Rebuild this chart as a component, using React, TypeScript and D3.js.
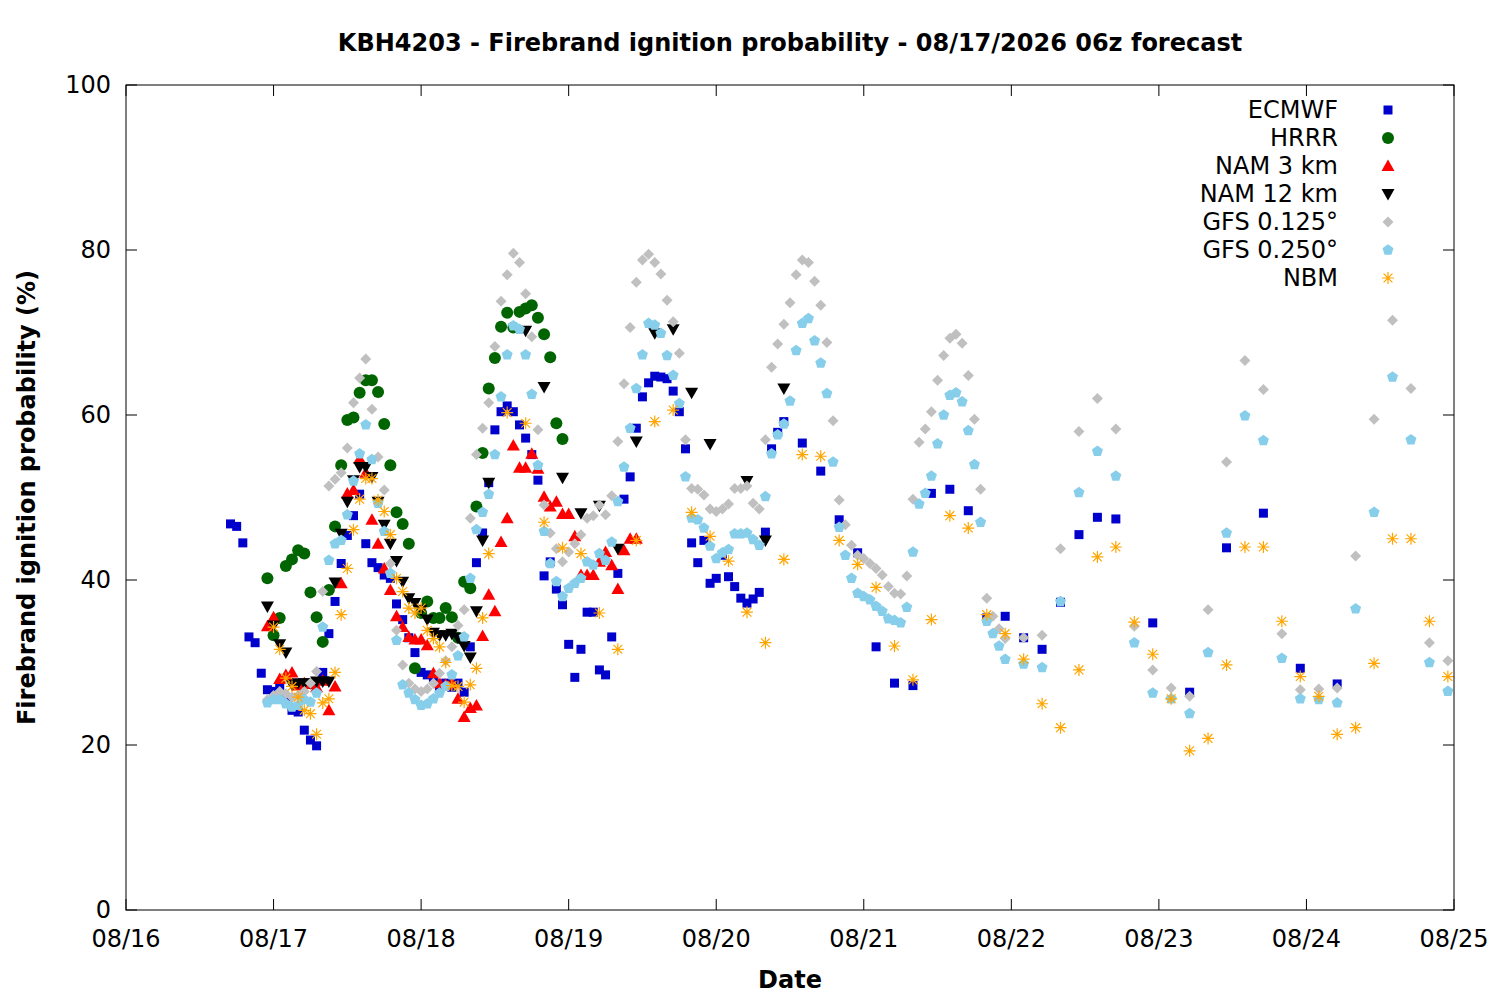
import React from 'react';
import * as d3 from 'd3';

// forecast hours since 08/16 00z paired with ignition probability (%)
const ECMWF: [number, number][] = [
  [17, 46.8], [18, 46.5], [19, 44.5], [20, 33.1], [21, 32.4], [22, 28.7], [23, 26.7], [24, 26.5], [25, 27.2], [26, 25.5],
  [27, 24.2], [28, 24.0], [29, 21.8], [30, 20.6], [31, 19.9], [32, 28.8], [33, 33.5], [34, 37.4], [35, 42.0], [36, 45.4],
  [37, 47.8], [38, 50.4], [39, 44.4], [40, 42.1], [41, 41.5], [42, 40.6], [43, 40.2], [44, 37.1], [45, 35.2], [46, 33.0],
  [47, 31.2], [48, 28.8], [49, 28.5], [50, 28.2], [51, 27.0], [52, 27.5], [53, 27.0], [54, 27.5], [55, 26.4], [56, 31.9],
  [57, 42.1], [58, 45.7], [59, 51.8], [60, 58.2], [61, 60.4], [62, 61.1], [63, 60.4], [64, 58.8], [65, 57.2], [66, 55.2],
  [67, 52.1], [68, 40.5], [69, 42.2], [70, 38.9], [71, 37.0], [72, 32.2], [73, 28.2], [74, 31.6], [75, 36.1], [76, 36.1],
  [77, 29.1], [78, 28.5], [79, 33.1], [80, 40.8], [81, 49.8], [82, 52.5], [83, 58.4], [84, 62.2], [85, 63.9], [86, 64.7],
  [87, 64.6], [88, 64.4], [89, 62.9], [90, 60.4], [91, 55.9], [92, 44.5], [93, 42.1], [94, 44.8], [95, 39.6], [96, 40.2],
  [97, 43.0], [98, 40.4], [99, 39.2], [100, 37.8], [101, 37.2], [102, 37.7], [103, 38.5], [104, 45.8], [105, 55.9], [106, 57.9],
  [107, 59.2], [110, 56.6], [113, 53.2], [116, 47.3], [119, 43.3], [122, 31.9], [125, 27.5], [128, 27.2], [131, 50.5], [134, 51.0],
  [137, 48.4], [140, 35.4], [143, 35.6], [146, 33.0], [149, 31.6], [152, 37.3], [155, 45.5], [158, 47.6], [161, 47.4], [167, 34.8],
  [173, 26.4], [179, 43.9], [185, 48.1], [191, 29.3], [197, 27.4],
];

const HRRR: [number, number][] = [
  [23, 40.2], [24, 33.3], [25, 35.4], [26, 41.7], [27, 42.5], [28, 43.6], [29, 43.2], [30, 38.5], [31, 35.5], [32, 32.5],
  [33, 38.8], [34, 46.5], [35, 53.9], [36, 59.4], [37, 59.7], [38, 62.7], [39, 64.2], [40, 64.2], [41, 62.8], [42, 58.9],
  [43, 53.9], [44, 48.2], [45, 46.8], [46, 44.4], [47, 29.3], [48, 36.0], [49, 37.4], [50, 35.4], [51, 35.4], [52, 36.6],
  [53, 35.5], [54, 33.0], [55, 39.8], [56, 39.0], [57, 48.9], [58, 55.4], [59, 63.2], [60, 66.9], [61, 70.7], [62, 72.4],
  [63, 70.6], [64, 72.5], [65, 72.9], [66, 73.3], [67, 71.8], [68, 69.8], [69, 67.0], [70, 59.0], [71, 57.1],
];

const NAM3: [number, number][] = [
  [23, 34.4], [24, 35.5], [25, 28.0], [26, 28.5], [27, 28.8], [28, 27.2], [29, 27.5], [30, 27.4], [31, 27.0], [32, 27.8],
  [33, 24.2], [34, 27.1], [35, 39.6], [36, 50.5], [37, 50.9], [38, 54.7], [39, 53.0], [40, 47.3], [41, 44.4], [42, 41.4],
  [43, 38.8], [44, 35.6], [45, 34.3], [46, 33.1], [47, 32.8], [48, 32.8], [49, 32.1], [50, 28.7], [51, 27.5], [52, 27.3],
  [53, 27.5], [54, 25.6], [55, 23.4], [56, 24.5], [57, 24.8], [58, 33.2], [59, 38.2], [60, 36.2], [61, 44.6], [62, 47.5],
  [63, 56.3], [64, 53.6], [65, 53.6], [66, 55.3], [67, 53.5], [68, 50.1], [69, 48.9], [70, 49.5], [71, 48.0], [72, 48.0],
  [73, 45.3], [74, 40.6], [75, 40.6], [76, 40.6], [77, 42.2], [78, 43.4], [79, 41.8], [80, 38.9], [81, 43.6], [82, 45.0],
  [83, 45.0],
];

const NAM12: [number, number][] = [
  [23, 36.8], [24, 34.5], [25, 32.2], [26, 31.2], [27, 27.3], [28, 27.5], [29, 27.5], [30, 27.5], [31, 27.7], [32, 27.7],
  [33, 27.7], [34, 39.7], [35, 45.6], [36, 49.5], [37, 52.1], [38, 53.7], [39, 53.7], [40, 52.5], [41, 49.5], [42, 46.7],
  [43, 44.4], [44, 42.3], [45, 39.8], [46, 37.8], [47, 37.2], [48, 36.4], [49, 35.2], [50, 33.6], [51, 33.3], [52, 33.3],
  [53, 33.5], [54, 33.0], [55, 32.0], [56, 30.6], [57, 36.2], [58, 44.8], [59, 51.8], [65, 70.2], [68, 63.4], [71, 52.4],
  [74, 48.1], [77, 49.0], [80, 43.8], [83, 56.8], [86, 69.9], [89, 70.4], [92, 62.7], [95, 56.5], [101, 52.0], [104, 44.8],
  [107, 63.2],
];

const GFS125: [number, number][] = [
  [23, 25.5], [24, 26.0], [25, 26.5], [26, 26.2], [27, 25.8], [28, 26.0], [29, 26.5], [30, 27.5], [31, 28.9], [32, 38.6],
  [33, 51.4], [34, 52.2], [35, 53.0], [36, 56.0], [37, 61.5], [38, 64.5], [39, 66.8], [40, 60.7], [41, 54.9], [42, 50.9],
  [43, 42.0], [44, 33.9], [45, 29.7], [46, 27.5], [47, 26.8], [48, 26.5], [49, 26.8], [50, 27.5], [51, 28.7], [52, 30.2],
  [53, 31.9], [54, 34.5], [55, 36.4], [56, 47.5], [57, 55.2], [58, 58.4], [59, 61.5], [60, 68.3], [61, 73.8], [62, 77.0],
  [63, 79.6], [64, 78.5], [65, 74.7], [66, 69.5], [67, 58.2], [68, 49.1], [69, 45.7], [70, 43.8], [71, 42.2], [72, 43.4],
  [73, 44.4], [74, 45.5], [75, 47.5], [76, 47.8], [77, 49.1], [78, 47.9], [79, 50.2], [80, 56.8], [81, 63.8], [82, 70.6],
  [83, 76.1], [84, 78.8], [85, 79.5], [86, 78.5], [87, 77.1], [88, 73.9], [89, 71.3], [90, 67.5], [91, 57.0], [92, 51.1],
  [93, 51.0], [94, 50.3], [95, 48.6], [96, 48.3], [97, 48.6], [98, 49.2], [99, 51.1], [100, 51.1], [101, 51.4], [102, 49.3],
  [103, 48.6], [104, 57.0], [105, 65.8], [106, 68.6], [107, 71.0], [108, 73.6], [109, 77.0], [110, 78.8], [111, 78.5], [112, 76.2],
  [113, 73.3], [114, 68.8], [115, 59.3], [116, 49.7], [117, 46.7], [118, 44.2], [119, 43.0], [120, 42.6], [121, 42.0], [122, 41.4],
  [123, 40.6], [124, 39.2], [125, 38.4], [126, 38.3], [127, 40.5], [128, 49.8], [129, 56.7], [130, 58.3], [131, 60.4], [132, 64.2],
  [133, 67.2], [134, 69.3], [135, 69.8], [136, 68.7], [137, 64.8], [138, 59.5], [139, 51.0], [140, 37.8], [141, 35.6], [142, 34.1],
  [143, 32.9], [146, 33.0], [149, 33.3], [152, 43.8], [155, 58.0], [158, 62.0], [161, 58.3], [164, 34.4], [167, 29.1], [170, 26.9],
  [173, 25.9], [176, 36.4], [179, 54.3], [182, 66.6], [185, 63.1], [188, 33.5], [191, 26.7], [194, 26.8], [197, 26.9], [200, 42.9],
  [203, 59.5], [206, 71.5], [209, 63.2], [212, 32.4], [215, 30.2],
];

const GFS250: [number, number][] = [
  [23, 25.1], [24, 25.5], [25, 25.5], [26, 25.0], [27, 24.6], [28, 24.8], [29, 25.5], [30, 25.2], [31, 26.3], [32, 34.3],
  [33, 42.4], [34, 44.4], [35, 44.8], [36, 47.9], [37, 52.0], [38, 55.3], [39, 58.8], [40, 54.6], [41, 49.3], [42, 45.9],
  [43, 40.8], [44, 32.7], [45, 27.3], [46, 26.3], [47, 25.5], [48, 24.8], [49, 25.0], [50, 25.6], [51, 26.3], [52, 27.1],
  [53, 28.5], [54, 30.8], [55, 33.1], [56, 40.2], [57, 46.1], [58, 48.2], [59, 50.4], [60, 55.2], [61, 62.2], [62, 67.3],
  [63, 70.8], [64, 70.4], [65, 67.3], [66, 62.5], [67, 53.9], [68, 45.9], [69, 42.0], [70, 39.8], [71, 38.0], [72, 39.0],
  [73, 39.6], [74, 40.2], [75, 42.2], [76, 41.8], [77, 43.2], [78, 42.4], [79, 44.6], [80, 49.5], [81, 53.7], [82, 58.4],
  [83, 63.2], [84, 67.3], [85, 71.1], [86, 70.9], [87, 69.9], [88, 67.2], [89, 64.8], [90, 61.4], [91, 52.5], [92, 47.5],
  [93, 47.3], [94, 46.3], [95, 44.1], [96, 42.6], [97, 43.3], [98, 43.7], [99, 45.6], [100, 45.6], [101, 45.7], [102, 44.9],
  [103, 44.2], [104, 50.1], [105, 55.3], [106, 57.6], [107, 58.9], [108, 61.7], [109, 67.8], [110, 71.1], [111, 71.7], [112, 69.0],
  [113, 66.3], [114, 62.6], [115, 54.3], [116, 46.4], [117, 43.0], [118, 40.2], [119, 38.4], [120, 38.0], [121, 37.6], [122, 36.8],
  [123, 36.2], [124, 35.3], [125, 35.1], [126, 34.8], [127, 36.7], [128, 43.4], [129, 49.2], [130, 50.5], [131, 52.6], [132, 56.5],
  [133, 60.0], [134, 62.4], [135, 62.7], [136, 61.6], [137, 58.1], [138, 54.0], [139, 47.0], [140, 35.0], [141, 33.5], [142, 32.0],
  [143, 30.4], [146, 29.8], [149, 29.4], [152, 37.4], [155, 50.6], [158, 55.6], [161, 52.6], [164, 32.4], [167, 26.3], [170, 25.6],
  [173, 23.8], [176, 31.2], [179, 45.7], [182, 59.9], [185, 56.9], [188, 30.5], [191, 25.6], [194, 25.5], [197, 25.1], [200, 36.5],
  [203, 48.2], [206, 64.6], [209, 57.0], [212, 30.0], [215, 26.5],
];

const NBM: [number, number][] = [
  [24, 34.3], [25, 31.6], [26, 28.1], [27, 27.1], [28, 25.8], [29, 24.2], [30, 23.8], [31, 21.3], [32, 25.1], [33, 25.6],
  [34, 28.8], [35, 35.8], [36, 41.4], [37, 46.1], [38, 49.8], [39, 52.3], [40, 52.3], [41, 49.7], [42, 48.3], [43, 45.5],
  [44, 40.2], [45, 38.6], [46, 36.6], [47, 36.0], [48, 36.6], [49, 33.9], [50, 32.9], [51, 31.9], [52, 30.0], [53, 27.2],
  [54, 27.1], [55, 25.2], [56, 27.3], [57, 29.3], [58, 35.4], [59, 43.2], [62, 60.3], [65, 59.0], [68, 47.0], [71, 43.9],
  [74, 43.2], [77, 36.0], [80, 31.6], [83, 44.8], [86, 59.2], [89, 60.6], [92, 48.2], [95, 45.3], [98, 42.3], [101, 36.1],
  [104, 32.4], [107, 42.5], [110, 55.2], [113, 55.0], [116, 44.8], [119, 41.9], [122, 39.1], [125, 32.0], [128, 27.9], [131, 35.2],
  [134, 47.8], [137, 46.3], [140, 35.8], [143, 33.5], [146, 30.4], [149, 25.0], [152, 22.1], [155, 29.1], [158, 42.8], [161, 44.0],
  [164, 34.9], [167, 31.0], [170, 25.6], [173, 19.3], [176, 20.8], [179, 29.7], [182, 44.0], [185, 44.0], [188, 35.0], [191, 28.3],
  [194, 25.9], [197, 21.3], [200, 22.1], [203, 29.9], [206, 45.0], [209, 45.0], [212, 35.0], [215, 28.3],
];

const Y_TICKS = [0, 20, 40, 60, 80, 100];
const TITLE = 'KBH4203 - Firebrand ignition probability - 08/17/2026 06z forecast';

type Shape = 'square' | 'circle' | 'triUp' | 'triDown' | 'diamond' | 'pentagon' | 'star';

const SERIES: { name: string; data: [number, number][]; color: string; shape: Shape }[] = [
  { name: 'ECMWF', data: ECMWF, color: '#0000cc', shape: 'square' },
  { name: 'HRRR', data: HRRR, color: '#006400', shape: 'circle' },
  { name: 'NAM 3 km', data: NAM3, color: '#ff0000', shape: 'triUp' },
  { name: 'NAM 12 km', data: NAM12, color: '#000000', shape: 'triDown' },
  { name: 'GFS 0.125°', data: GFS125, color: '#c0c0c0', shape: 'diamond' },
  { name: 'GFS 0.250°', data: GFS250, color: '#87ceeb', shape: 'pentagon' },
  { name: 'NBM', data: NBM, color: '#ffa500', shape: 'star' },
];

const START = Date.UTC(2026, 7, 16);
const HOUR = 3600 * 1000;
const FONT = '"DejaVu Sans", sans-serif';
const FS = 24;

const margin = { left: 126, right: 1454, top: 85, bottom: 910 };

const x = d3.scaleUtc()
  .domain([new Date(START), new Date(START + 216 * HOUR)])
  .range([margin.left, margin.right]);
const y = d3.scaleLinear().domain([0, 100]).range([margin.bottom, margin.top]);
const fmt = d3.utcFormat('%m/%d');

function shapePath(shape: Shape): string {
  switch (shape) {
    case 'square':
      return 'M-4.5,-4.5H4.5V4.5H-4.5Z';
    case 'circle':
      return d3.symbol(d3.symbolCircle, Math.PI * 36)() as string;
    case 'triUp':
      return 'M0,-6.5L6.5,5L-6.5,5Z';
    case 'triDown':
      return 'M0,6.5L6.5,-5L-6.5,-5Z';
    case 'diamond':
      return 'M0,-5.5L5.5,0L0,5.5L-5.5,0Z';
    case 'pentagon': {
      const r = 5.8;
      const pts = d3.range(5).map(i => {
        const a = -Math.PI / 2 + (i * 2 * Math.PI) / 5;
        return [r * Math.cos(a), r * Math.sin(a)];
      });
      return 'M' + pts.map(p => p.join(',')).join('L') + 'Z';
    }
    case 'star':
      return 'M-6,0H6M0,-6V6M-4.4,-4.4L4.4,4.4M-4.4,4.4L4.4,-4.4';
  }
}

const Marker: React.FC<{ shape: Shape; color: string; tx: number; ty: number }> = ({ shape, color, tx, ty }) => {
  const d = shapePath(shape);
  if (shape === 'star') {
    return <path d={d} transform={`translate(${tx},${ty})`} stroke={color} strokeWidth={1.2} fill="none" />;
  }
  return <path d={d} transform={`translate(${tx},${ty})`} fill={color} />;
};

export default function App() {
  const xTicks = d3.utcDay.range(new Date(START), new Date(START + 217 * HOUR));
  const tickLen = 11;

  return (
    <svg width={1500} height={1000} style={{ position: 'absolute', left: 0, top: 0, background: '#fff' }} fontFamily={FONT}>
      <rect x={0} y={0} width={1500} height={1000} fill="#fff" />

      {/* title */}
      <text x={790} y={51} textAnchor="middle" fontSize={FS} fontWeight="bold">{TITLE}</text>

      {/* tick marks, mirrored on all sides */}
      <g stroke="#000" strokeWidth={1}>
        {Y_TICKS.map(t => (
          <g key={`y${t}`}>
            <line x1={margin.left} x2={margin.left + tickLen} y1={y(t)} y2={y(t)} />
            <line x1={margin.right} x2={margin.right - tickLen} y1={y(t)} y2={y(t)} />
          </g>
        ))}
        {xTicks.map(t => (
          <g key={`x${+t}`}>
            <line x1={x(t)} x2={x(t)} y1={margin.bottom} y2={margin.bottom - tickLen} />
            <line x1={x(t)} x2={x(t)} y1={margin.top} y2={margin.top + tickLen} />
          </g>
        ))}
      </g>

      {/* tick labels */}
      <g fontSize={FS} fill="#000">
        {Y_TICKS.map(t => (
          <text key={`yl${t}`} x={111} y={y(t) + 8} textAnchor="end">{t}</text>
        ))}
        {xTicks.map(t => (
          <text key={`xl${+t}`} x={x(t)} y={947} textAnchor="middle">{fmt(t)}</text>
        ))}
      </g>

      {/* axis titles */}
      <text x={790} y={988} textAnchor="middle" fontSize={FS} fontWeight="bold">Date</text>
      <text transform={`translate(35,${(margin.top + margin.bottom) / 2}) rotate(-90)`} textAnchor="middle" fontSize={FS} fontWeight="bold">
        Firebrand ignition probability (%)
      </text>

      {/* points */}
      {SERIES.map(s => (
        <g key={s.name}>
          {s.data.map(([h, v]) => (
            <Marker key={h} shape={s.shape} color={s.color} tx={x(new Date(START + h * HOUR))} ty={y(v)} />
          ))}
        </g>
      ))}

      {/* legend */}
      {SERIES.map((s, i) => (
        <g key={`lg${s.name}`}>
          <text x={1338} y={110 + i * 28 + 8} textAnchor="end" fontSize={FS}>{s.name}</text>
          <Marker shape={s.shape} color={s.color} tx={1388} ty={110 + i * 28} />
        </g>
      ))}

      {/* frame */}
      <rect x={margin.left} y={margin.top} width={margin.right - margin.left} height={margin.bottom - margin.top}
        fill="none" stroke="#000" strokeWidth={1} />
    </svg>
  );
}
